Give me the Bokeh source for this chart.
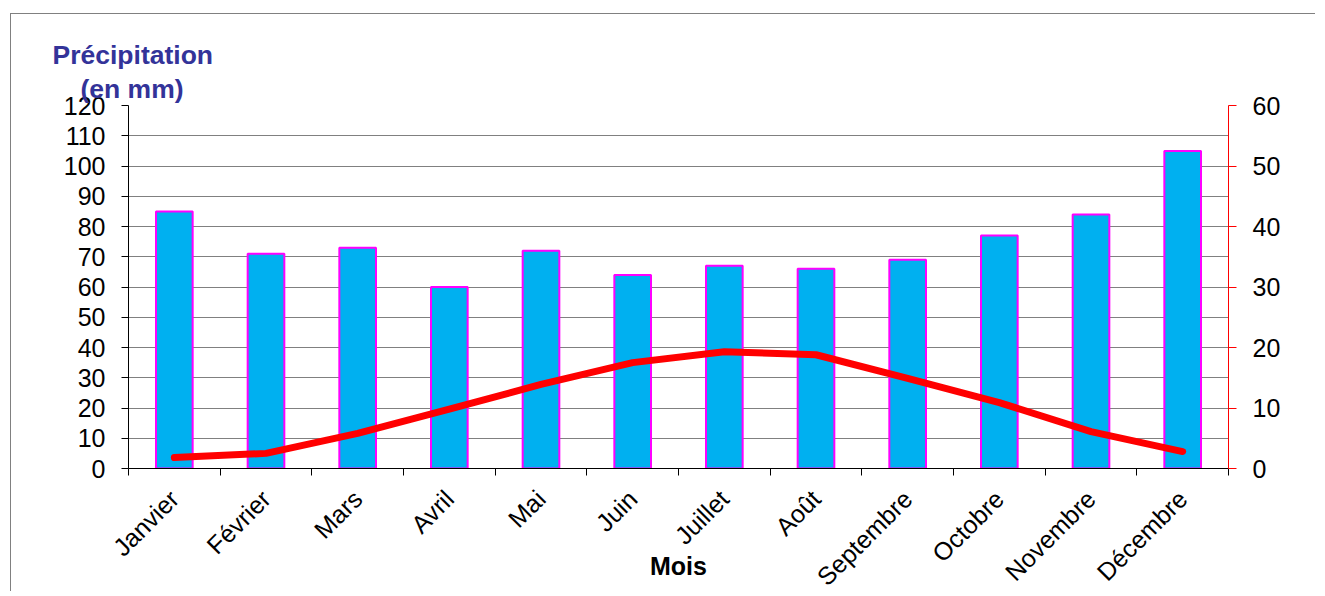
import numpy as np
from bokeh.plotting import figure
from bokeh.models import Range1d, LinearAxis, FixedTicker, SingleIntervalTicker, Title
from bokeh.embed import file_html
from bokeh.resources import INLINE

months = ["Janvier", "Février", "Mars", "Avril", "Mai", "Juin", "Juillet",
          "Août", "Septembre", "Octobre", "Novembre", "Décembre"]
precip = [85, 71, 73, 60, 72, 64, 67, 66, 69, 77, 84, 105]
temp = [1.8, 2.5, 5.8, 9.8, 13.9, 17.5, 19.3, 18.8, 14.9, 10.9, 6.1, 2.8]

FONT = "Liberation Sans"
n = len(months)
xc = [i + 0.5 for i in range(n)]

p = figure(width=1305, height=578, output_backend="svg", toolbar_location=None,
           x_range=Range1d(0, n), y_range=Range1d(0, 120),
           min_border_left=117, min_border_right=88, min_border_top=91, min_border_bottom=124)
p.margin = (13, 0, 0, 10)
p.styles = {"border-left": "1px solid #808080", "border-top": "1px solid #808080"}
p.outline_line_color = None
p.background_fill_color = "white"
p.border_fill_color = "white"

p.extra_y_ranges = {"temp": Range1d(0, 60)}

p.vbar(x=xc, top=precip, width=0.4, fill_color="#00B0F0",
       line_color="#FF00FF", line_width=2)
p.line(x=xc, y=temp, y_range_name="temp", line_color="#FF0000", line_width=7,
       line_cap="round", line_join="round")

# x axis
xa = p.xaxis[0]
xa.ticker = FixedTicker(ticks=xc, minor_ticks=list(range(n + 1)))
xa.major_label_overrides = {x: m for x, m in zip(xc, months)}
xa.major_label_orientation = np.pi / 4
xa.major_tick_out = 0
xa.major_tick_in = 0
xa.minor_tick_out = 7
xa.minor_tick_in = 0
xa.minor_tick_line_color = "black"
xa.axis_line_color = "black"
xa.major_label_text_font = FONT
xa.major_label_text_font_size = "25px"
xa.major_label_text_color = "black"
xa.major_label_standoff = 19
xa.axis_label = "Mois"
xa.axis_label_text_font = FONT
xa.axis_label_text_font_size = "25px"
xa.axis_label_text_font_style = "bold"
xa.axis_label_text_color = "black"
xa.axis_label_standoff = -52

# left axis
ya = p.yaxis[0]
ya.ticker = SingleIntervalTicker(interval=10, num_minor_ticks=0)
ya.major_tick_out = 7
ya.major_tick_in = 0
ya.minor_tick_out = 0
ya.minor_tick_in = 0
ya.axis_line_color = "black"
ya.major_tick_line_color = "black"
ya.major_label_text_font = FONT
ya.major_label_text_font_size = "25px"
ya.major_label_text_color = "black"
ya.major_label_standoff = 16

# right axis
ra = LinearAxis(y_range_name="temp", ticker=SingleIntervalTicker(interval=10, num_minor_ticks=0))
ra.axis_line_color = "#FF0000"
ra.major_tick_line_color = "#FF0000"
ra.major_tick_out = 8
ra.major_tick_in = 0
ra.minor_tick_out = 0
ra.minor_tick_in = 0
ra.major_label_text_font = FONT
ra.major_label_text_font_size = "25px"
ra.major_label_text_color = "black"
ra.major_label_standoff = 16
p.add_layout(ra, "right")

p.xgrid.grid_line_color = None
p.ygrid.grid_line_color = "#808080"
p.ygrid.grid_line_width = 1
p.ygrid.ticker = SingleIntervalTicker(interval=10)

# titles (nearest to the frame first)
p.add_layout(Title(text="(en mm)", align="left", offset=-48, standoff=4,
                   text_font=FONT, text_font_size="26.5px", text_font_style="bold",
                   text_color="#333399"), "above")
p.add_layout(Title(text="Précipitation", align="left", offset=-76, standoff=0,
                   text_font=FONT, text_font_size="26.5px", text_font_style="bold",
                   text_color="#333399"), "above")

open("out.html", "w").write(file_html(p, INLINE))
